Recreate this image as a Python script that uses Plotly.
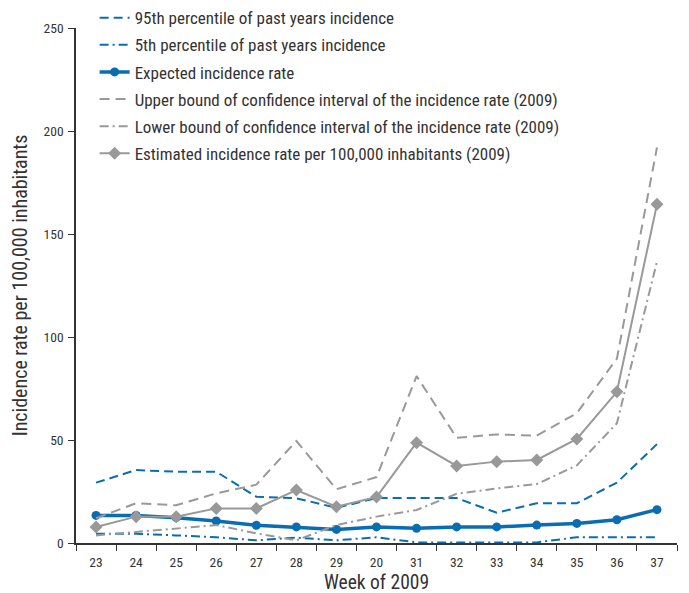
import plotly.graph_objects as go

weeks = ["23", "24", "25", "26", "27", "28", "29", "20", "31", "32", "33", "34", "35", "36", "37"]
p95 = [29.3, 35.4, 34.6, 34.6, 22.5, 21.7, 17.1, 21.8, 21.8, 21.8, 14.7, 19.3, 19.3, 29.3, 48.0]
p5 = [4.5, 4.5, 3.7, 2.8, 1.3, 2.6, 1.3, 2.8, 0.3, 0.3, 0.3, 0.3, 2.8, 2.8, 2.8]
expected = [13.4, 13.4, 12.3, 10.7, 8.6, 7.8, 6.6, 7.8, 7.1, 7.8, 7.8, 8.7, 9.5, 11.3, 16.2]
upper = [12.0, 19.3, 18.3, 24.1, 28.3, 49.5, 26.1, 32.0, 81.0, 51.1, 52.7, 52.1, 63.0, 89.5, 192.0]
lower = [3.7, 5.3, 6.8, 8.7, 4.7, 1.3, 8.7, 12.8, 16.0, 23.9, 26.5, 28.6, 37.7, 58.1, 136.6]
estimated = [7.8, 12.8, 12.8, 16.8, 16.8, 25.7, 17.6, 22.3, 48.7, 37.4, 39.5, 40.3, 50.5, 73.4, 164.4]

names = [
    "95th percentile of past years incidence",
    "5th percentile of past years incidence",
    "Expected incidence rate",
    "Upper bound of confidence interval of the incidence rate (2009)",
    "Lower bound of confidence interval of the incidence rate (2009)",
    "Estimated incidence rate per 100,000 inhabitants (2009)",
]

BLUE = "#0a6db2"
GRAY = "#999999"
TXT = "#333333"
FONT = "Roboto Condensed, DejaVu Sans Condensed, sans-serif"

fig = go.Figure()
fig.add_trace(go.Scatter(x=weeks, y=p95, name=names[0], mode="lines", legendgroup="a",
                         line=dict(color=BLUE, width=2, dash="9px,5px")))
fig.add_trace(go.Scatter(x=weeks, y=p5, name=names[1], mode="lines", legendgroup="b",
                         line=dict(color=BLUE, width=2, dash="9px,4px,2px,4px")))
fig.add_trace(go.Scatter(x=weeks, y=expected, name=names[2], mode="lines+markers", legendgroup="c",
                         line=dict(color=BLUE, width=3.5), marker=dict(symbol="circle", size=9, color=BLUE)))
fig.add_trace(go.Scatter(x=weeks, y=upper, name=names[3], mode="lines", legendgroup="d",
                         line=dict(color=GRAY, width=2, dash="10px,6px")))
fig.add_trace(go.Scatter(x=weeks, y=lower, name=names[4], mode="lines", legendgroup="e",
                         line=dict(color=GRAY, width=2, dash="9px,4px,2px,4px")))
fig.add_trace(go.Scatter(x=weeks, y=estimated, name=names[5], mode="lines+markers", legendgroup="f",
                         line=dict(color=GRAY, width=2), marker=dict(symbol="diamond", size=10, color=GRAY)))

# the page body has an 8px margin, so the margins below compensate for it
fig.update_layout(
    width=689, height=593,
    margin=dict(l=68, r=20, t=20, b=58, autoexpand=False),
    paper_bgcolor="white", plot_bgcolor="white",
    font=dict(family=FONT, color=TXT, size=13.5),
    showlegend=True,
    legend=dict(x=0.031, y=1.054, xanchor="left", yanchor="top",
                font=dict(size=17, color=TXT), bgcolor="rgba(0,0,0,0)",
                traceorder="grouped", tracegroupgap=2, itemwidth=30),
    xaxis=dict(type="category", tickson="boundaries", ticks="outside", ticklen=6,
               tickcolor=TXT, showline=True, linecolor=TXT, linewidth=1.5, automargin=False,
               showgrid=False, tickfont=dict(size=13.5, color=TXT), ticklabelstandoff=6,
               title=dict(text="Week of 2009", font=dict(size=19.5, color=TXT), standoff=6),
               range=[-0.5, 14.5]),
    yaxis=dict(range=[0, 250], tickvals=[0, 50, 100, 150, 200, 250], ticks="outside", ticklen=6,
               tickcolor=TXT, showline=True, linecolor=TXT, linewidth=1.5, automargin=False,
               showgrid=False, zeroline=False, tickfont=dict(size=13.5, color=TXT), ticklabelstandoff=2,
               title=dict(text="Incidence rate per 100,000 inhabitants", font=dict(size=20, color=TXT), standoff=14)),
)

fig.write_html("out.html")
